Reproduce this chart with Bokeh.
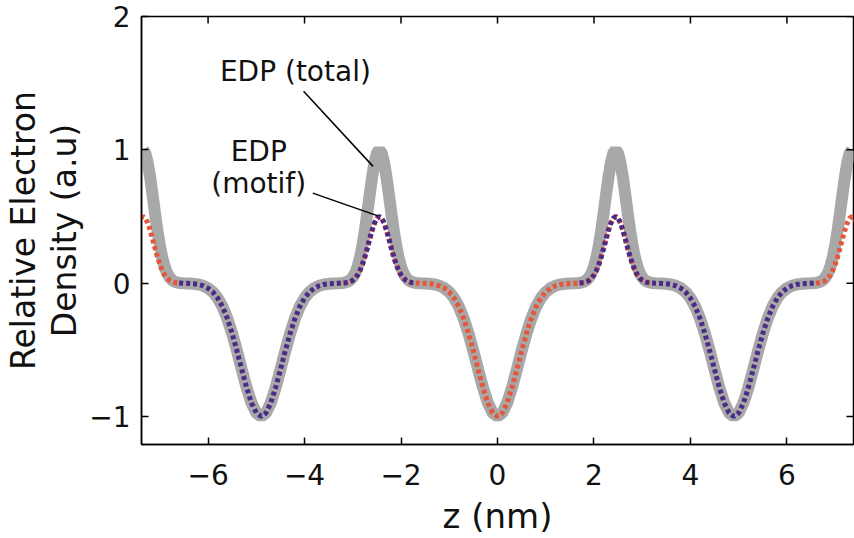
from bokeh.plotting import figure
from bokeh.models import Range1d, FixedTicker, Label, LinearAxis
from bokeh.embed import file_html
from bokeh.resources import INLINE

# ---- data ----
# one motif (single unit), half profile, symmetric about its centre
motif_dz = [0.0, 0.1, 0.2, 0.3, 0.4, 0.5, 0.6, 0.7, 0.8, 0.9, 1.0, 1.1, 1.2, 1.3, 1.4, 1.5, 1.6,
            1.7, 1.75, 1.8, 1.85, 1.9, 1.95, 2.0, 2.05, 2.1, 2.15, 2.2, 2.25, 2.3, 2.35, 2.4, 2.45,
            2.5, 2.55, 2.6, 2.65, 2.7, 2.75, 2.8, 2.85, 2.9, 2.95, 3.0, 3.05, 3.1, 3.15, 3.2]
motif_val = [-1.0, -0.973, -0.898, -0.784, -0.649, -0.509, -0.378, -0.266, -0.177, -0.112, -0.067,
             -0.038, -0.020, -0.010, -0.005, -0.002, -0.001,
             0.001, 0.003, 0.006, 0.012, 0.022, 0.038, 0.062, 0.096, 0.141, 0.197, 0.262, 0.331,
             0.396, 0.451, 0.487, 0.500,
             0.487, 0.451, 0.396, 0.331, 0.262, 0.197, 0.141, 0.096, 0.062, 0.038, 0.022, 0.012,
             0.006, 0.003, 0.001]
# total EDP, half period profile
total_dz = [0.0, 0.1, 0.2, 0.3, 0.4, 0.5, 0.6, 0.7, 0.8, 0.9, 1.0, 1.1, 1.2, 1.3, 1.4, 1.5, 1.6,
            1.7, 1.75, 1.8, 1.85, 1.9, 1.95, 2.0, 2.05, 2.1, 2.15, 2.2, 2.25, 2.3, 2.35, 2.4, 2.45]
total_val = [-1.0, -0.973, -0.898, -0.784, -0.649, -0.509, -0.378, -0.266, -0.177, -0.112, -0.067,
             -0.038, -0.020, -0.010, -0.005, -0.002, -0.001,
             0.002, 0.006, 0.012, 0.024, 0.044, 0.076, 0.124, 0.192, 0.282, 0.394, 0.524, 0.662,
             0.792, 0.902, 0.974, 1.0]
total_centers = [-4.9, 0.0, 4.9]
red_centers = [-9.8, 0.0, 9.8]
blue_centers = [-4.9, 4.9]
blue_windows = [(-1.7, 3.2), (-3.2, 1.7)]

x_ticks = [-6, -4, -2, 0, 2, 4, 6]
x_tick_labels = ["\u22126", "\u22124", "\u22122", "0", "2", "4", "6"]
y_ticks = [-1, 0, 1, 2]
y_tick_labels = ["\u22121", "0", "1", "2"]
y_title_lines = ["Relative Electron", "Density (a.u)"]

FONT = "DejaVu Sans"
X0, X1 = -7.38, 7.38
Y0, Y1 = -1.21, 2.0
PX_X = 712 / (X1 - X0)      # pixels per nm
PX_Y = 428 / (Y1 - Y0)      # pixels per unit density


def mirror(dz, v):
    xs = [-d for d in dz[:0:-1]] + list(dz)
    vs = list(v[:0:-1]) + list(v)
    return xs, vs


m_x, m_y = mirror(motif_dz, motif_val)
t_x, t_y = mirror(total_dz, total_val)

tot_x, tot_y = [], []
for c in total_centers:
    tot_x += [c + d for d in t_x]
    tot_y += t_y

red_xs = [[c + d for d in m_x] for c in red_centers]
red_ys = [list(m_y) for c in red_centers]

blue_xs, blue_ys = [], []
for c, (lo, hi) in zip(blue_centers, blue_windows):
    sel = [(d, v) for d, v in zip(m_x, m_y) if lo - 1e-9 <= d <= hi + 1e-9]
    blue_xs.append([c + d for d, v in sel])
    blue_ys.append([v for d, v in sel])

p = figure(width=854, height=538, x_range=Range1d(X0, X1), y_range=Range1d(Y0, Y1),
           output_backend="svg", toolbar_location=None,
           min_border_left=141, min_border_right=1, min_border_top=16, min_border_bottom=94)
p.grid.visible = False
p.outline_line_color = "black"
p.outline_line_width = 1.5
p.background_fill_color = "white"
p.border_fill_color = "white"

p.line(tot_x, tot_y, line_color="#a8a8a8", line_width=12)
p.multi_line(red_xs, red_ys, line_color="#e5563a", line_width=5, line_dash="4 3")
p.multi_line(blue_xs, blue_ys, line_color="#4a2b88", line_width=5, line_dash="4 3")

# mirrored ticks on the top and right edges of the box
tick_len_y = 7 / PX_Y
tick_len_x = 7 / PX_X
p.segment(x0=x_ticks, y0=[Y1] * len(x_ticks), x1=x_ticks, y1=[Y1 - tick_len_y] * len(x_ticks),
          line_color="black", line_width=1.5)
p.segment(x0=[X1] * len(y_ticks), y0=y_ticks, x1=[X1 - tick_len_x] * len(y_ticks), y1=y_ticks,
          line_color="black", line_width=1.5)

# annotations
p.segment(x0=[-4.02, -3.83], y0=[1.44, 0.675], x1=[-2.58, -2.48], y1=[0.876, 0.505],
          line_color="black", line_width=1.5)
for txt, x, y in [("EDP (total)", -4.19, 1.59), ("EDP", -4.95, 0.99), ("(motif)", -4.95, 0.745)]:
    p.add_layout(Label(x=x, y=y, text=txt, text_align="center", text_baseline="middle",
                       text_font=FONT, text_font_size="28px", text_color="#111111"))

for ax, ticks, labels in [(p.xaxis[0], x_ticks, x_tick_labels), (p.yaxis[0], y_ticks, y_tick_labels)]:
    ax.ticker = FixedTicker(ticks=ticks)
    ax.major_label_overrides = {t: l for t, l in zip(ticks, labels)}
    ax.major_tick_in = 7
    ax.major_tick_out = 0
    ax.minor_tick_in = 0
    ax.minor_tick_out = 0
    ax.axis_line_width = 1.5
    ax.major_tick_line_width = 1.5
    ax.major_label_text_font = FONT
    ax.major_label_text_font_size = "28px"
    ax.major_label_text_color = "#111111"
    ax.axis_label_text_font = FONT
    ax.axis_label_text_font_style = "normal"
    ax.axis_label_text_color = "#111111"

p.xaxis.axis_label = "z (nm)"
p.xaxis.axis_label_text_font_size = "34px"
p.xaxis.major_label_standoff = 19
p.xaxis.axis_label_standoff = 8

# y title: second line on the main axis, first line on an outer tickless axis
p.yaxis.major_label_standoff = 11
p.yaxis.axis_label = y_title_lines[1]
p.yaxis.axis_label_text_font_size = "33px"
p.yaxis.axis_label_standoff = 2

outer = LinearAxis(ticker=FixedTicker(ticks=[]), axis_line_color=None,
                   major_tick_out=0, major_tick_in=0, minor_tick_out=0, minor_tick_in=0,
                   major_label_standoff=0, axis_label=y_title_lines[0],
                   axis_label_standoff=0, axis_label_text_font=FONT,
                   axis_label_text_font_style="normal", axis_label_text_font_size="33px",
                   axis_label_text_color="#111111")
p.add_layout(outer, "left")

open("out.html", "w").write(file_html(p, INLINE))
